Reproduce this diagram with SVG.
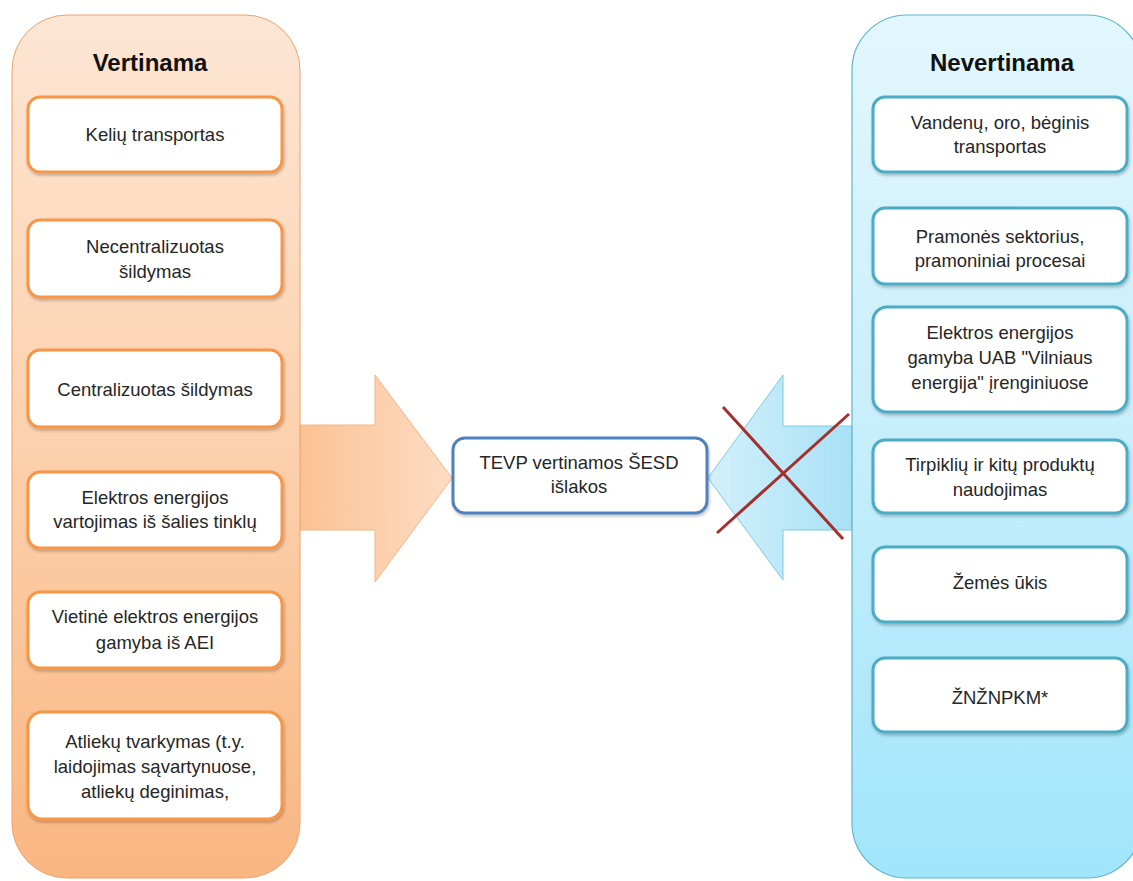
<svg xmlns="http://www.w3.org/2000/svg" width="1133" height="881" viewBox="0 0 1133 881">
<defs>
<linearGradient id="gOr" x1="0" y1="0" x2="0" y2="1">
<stop offset="0" stop-color="#fde6d4"/>
<stop offset="0.5" stop-color="#fcd1ad"/>
<stop offset="1" stop-color="#f9b681"/>
</linearGradient>
<linearGradient id="gBl" x1="0" y1="0" x2="0" y2="1">
<stop offset="0" stop-color="#e3f7fd"/>
<stop offset="0.5" stop-color="#c6eefb"/>
<stop offset="1" stop-color="#a1e5fa"/>
</linearGradient>
<linearGradient id="gArO" x1="0" y1="0" x2="1" y2="0">
<stop offset="0" stop-color="#fbc294"/>
<stop offset="1" stop-color="#fddcc3"/>
</linearGradient>
<linearGradient id="gArB" x1="1" y1="0" x2="0" y2="0">
<stop offset="0" stop-color="#a8e1f5"/>
<stop offset="1" stop-color="#d3f0fb"/>
</linearGradient>
<filter id="sh" x="-10%" y="-10%" width="120%" height="130%">
<feDropShadow dx="1" dy="2" stdDeviation="1.5" flood-color="#000" flood-opacity="0.25"/>
</filter>
</defs>
<style>
text{font-family:"Liberation Sans",Arial,sans-serif;font-size:18.5px;fill:#262626;text-anchor:middle}
.title{font-size:24px;font-weight:bold;fill:#111}
.ob{fill:#fff;stroke:#f79646;stroke-width:3}
.bb{fill:#fff;stroke:#4bacc6;stroke-width:3}
.cb{fill:#fff;stroke:#4f81bd;stroke-width:3}
</style>
<rect width="1133" height="881" fill="#fff"/>
<g id="connectors">
<path d="M300,425 L375,425 L375,375 L452,478 L375,582 L375,530 L300,530 Z" fill="url(#gArO)" stroke="#f6b585" stroke-width="1"/>
<path d="M852,426 L783,426 L783,375 L708,478 L783,580 L783,530 L852,530 Z" fill="url(#gArB)" stroke="#7ccbe0" stroke-width="1"/>
<line x1="723" y1="407" x2="843" y2="539" stroke="#a3302d" stroke-width="3"/>
<line x1="717" y1="533" x2="849" y2="414" stroke="#a3302d" stroke-width="3"/>
</g>
<g id="left-container">
<rect x="12" y="15" width="288" height="863" rx="55" fill="url(#gOr)" stroke="#e9a46f" stroke-width="1"/>
<text class="title" x="150" y="71">Vertinama</text>
</g>
<g id="l1"><rect class="ob" x="28" y="97" width="254" height="75" rx="12" filter="url(#sh)"/><text x="155" y="141">Kelių transportas</text></g>
<g id="l2"><rect class="ob" x="28" y="220" width="254" height="77" rx="12" filter="url(#sh)"/><text x="155" y="253">Necentralizuotas</text><text x="155" y="278">šildymas</text></g>
<g id="l3"><rect class="ob" x="28" y="350" width="254" height="77" rx="12" filter="url(#sh)"/><text x="155" y="396">Centralizuotas šildymas</text></g>
<g id="l4"><rect class="ob" x="28" y="472" width="254" height="76" rx="12" filter="url(#sh)"/><text x="155" y="504">Elektros energijos</text><text x="155" y="528">vartojimas iš šalies tinklų</text></g>
<g id="l5"><rect class="ob" x="28" y="592" width="254" height="76" rx="12" filter="url(#sh)"/><text x="155" y="623">Vietinė elektros energijos</text><text x="155" y="649">gamyba iš AEI</text></g>
<g id="l6"><rect class="ob" x="28" y="712" width="254" height="107" rx="14" filter="url(#sh)"/><text x="155" y="748">Atliekų tvarkymas (t.y.</text><text x="155" y="773">laidojimas sąvartynuose,</text><text x="155" y="798">atliekų deginimas,</text></g>
<g id="center"><rect class="cb" x="453" y="438" width="254" height="75" rx="12" filter="url(#sh)"/><text x="579" y="469">TEVP vertinamos ŠESD</text><text x="579" y="493">išlakos</text></g>
<g id="right-container">
<rect x="852" y="15" width="290" height="863" rx="55" fill="url(#gBl)" stroke="#5fb4cf" stroke-width="1.2"/>
<text class="title" x="1002" y="71">Nevertinama</text>
</g>
<g id="r1"><rect class="bb" x="873" y="97" width="254" height="75" rx="12" filter="url(#sh)"/><text x="1000" y="129">Vandenų, oro, bėginis</text><text x="1000" y="153">transportas</text></g>
<g id="r2"><rect class="bb" x="873" y="208" width="254" height="76" rx="12" filter="url(#sh)"/><text x="1000" y="243">Pramonės sektorius,</text><text x="1000" y="267">pramoniniai procesai</text></g>
<g id="r3"><rect class="bb" x="873" y="307" width="254" height="105" rx="14" filter="url(#sh)"/><text x="1000" y="339">Elektros energijos</text><text x="1000" y="364">gamyba UAB "Vilniaus</text><text x="1000" y="389">energija" įrenginiuose</text></g>
<g id="r4"><rect class="bb" x="873" y="440" width="254" height="73" rx="12" filter="url(#sh)"/><text x="1000" y="471">Tirpiklių ir kitų produktų</text><text x="1000" y="496">naudojimas</text></g>
<g id="r5"><rect class="bb" x="873" y="547" width="254" height="75" rx="12" filter="url(#sh)"/><text x="1000" y="589">Žemės ūkis</text></g>
<g id="r6"><rect class="bb" x="873" y="658" width="254" height="74" rx="12" filter="url(#sh)"/><text x="1000" y="704">ŽNŽNPKM*</text></g>
</svg>
